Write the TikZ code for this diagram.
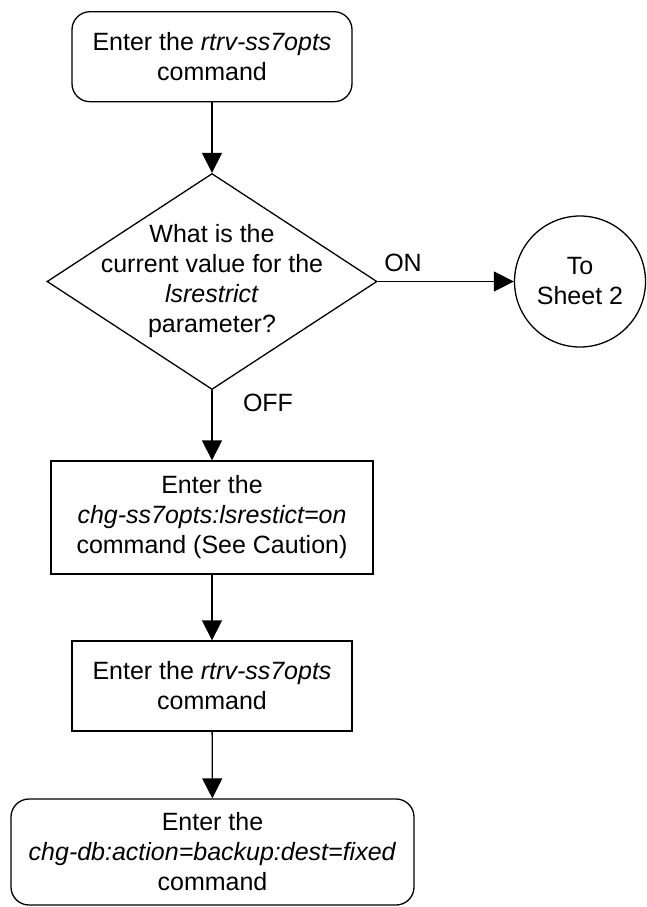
\documentclass[tikz,border=0pt]{standalone}
\usepackage{fontspec}
\setmainfont{Liberation Sans}
\usetikzlibrary{shapes.geometric,arrows.meta}
\begin{document}
\begin{tikzpicture}[x=1pt,y=-1pt,
  every node/.style={font=\fontsize{25}{30}\selectfont, align=center, inner sep=0pt},
  shapebox/.style={draw, line width=1.3pt, rectangle},
  roundbox/.style={draw, line width=1.3pt, rectangle, rounded corners=18pt},
  decision/.style={draw, line width=1.3pt, diamond, minimum width=330pt, minimum height=216pt, inner sep=0pt},
  connector/.style={draw, line width=1.3pt, circle, minimum size=131pt},
  flow/.style={line width=1.3pt, -{Triangle[width=20pt,length=20pt]}}
]
\useasboundingbox (0,0) rectangle (646,907);

\node[roundbox, minimum width=280pt, minimum height=90pt] (start) at (212,56.7)
  {Enter the \textit{rtrv-ss7opts}\\command};

\node[decision] (dec) at (212,281.5) {};
\node (dectext) at (212,281.5)
  {What is the\\current value for the\\\textit{lsrestrict}\\parameter?};

\node[connector] (sheet) at (580,281.5) {To\\Sheet 2};

\node[shapebox, minimum width=322pt, minimum height=113pt] (chg) at (212,517.5)
  {Enter the\\\textit{chg-ss7opts:lsrestict=on}\\command (See Caution)};

\node[shapebox, minimum width=280pt, minimum height=90pt] (rtrv) at (212,686)
  {Enter the \textit{rtrv-ss7opts}\\command};

\node[roundbox, minimum width=403pt, minimum height=106pt] (backup) at (212.5,852)
  {Enter the\\\textit{chg-db:action=backup:dest=fixed}\\command};

\node (on) at (403,263) {ON};
\node (off) at (268,403) {OFF};

\draw[flow] (start) -- (dec);
\draw[flow] (dec.east) -- (sheet);
\draw[flow] (dec.south) -- (chg);
\draw[flow] (chg) -- (rtrv);
\draw[flow] (rtrv) -- (backup);
\end{tikzpicture}
\end{document}
